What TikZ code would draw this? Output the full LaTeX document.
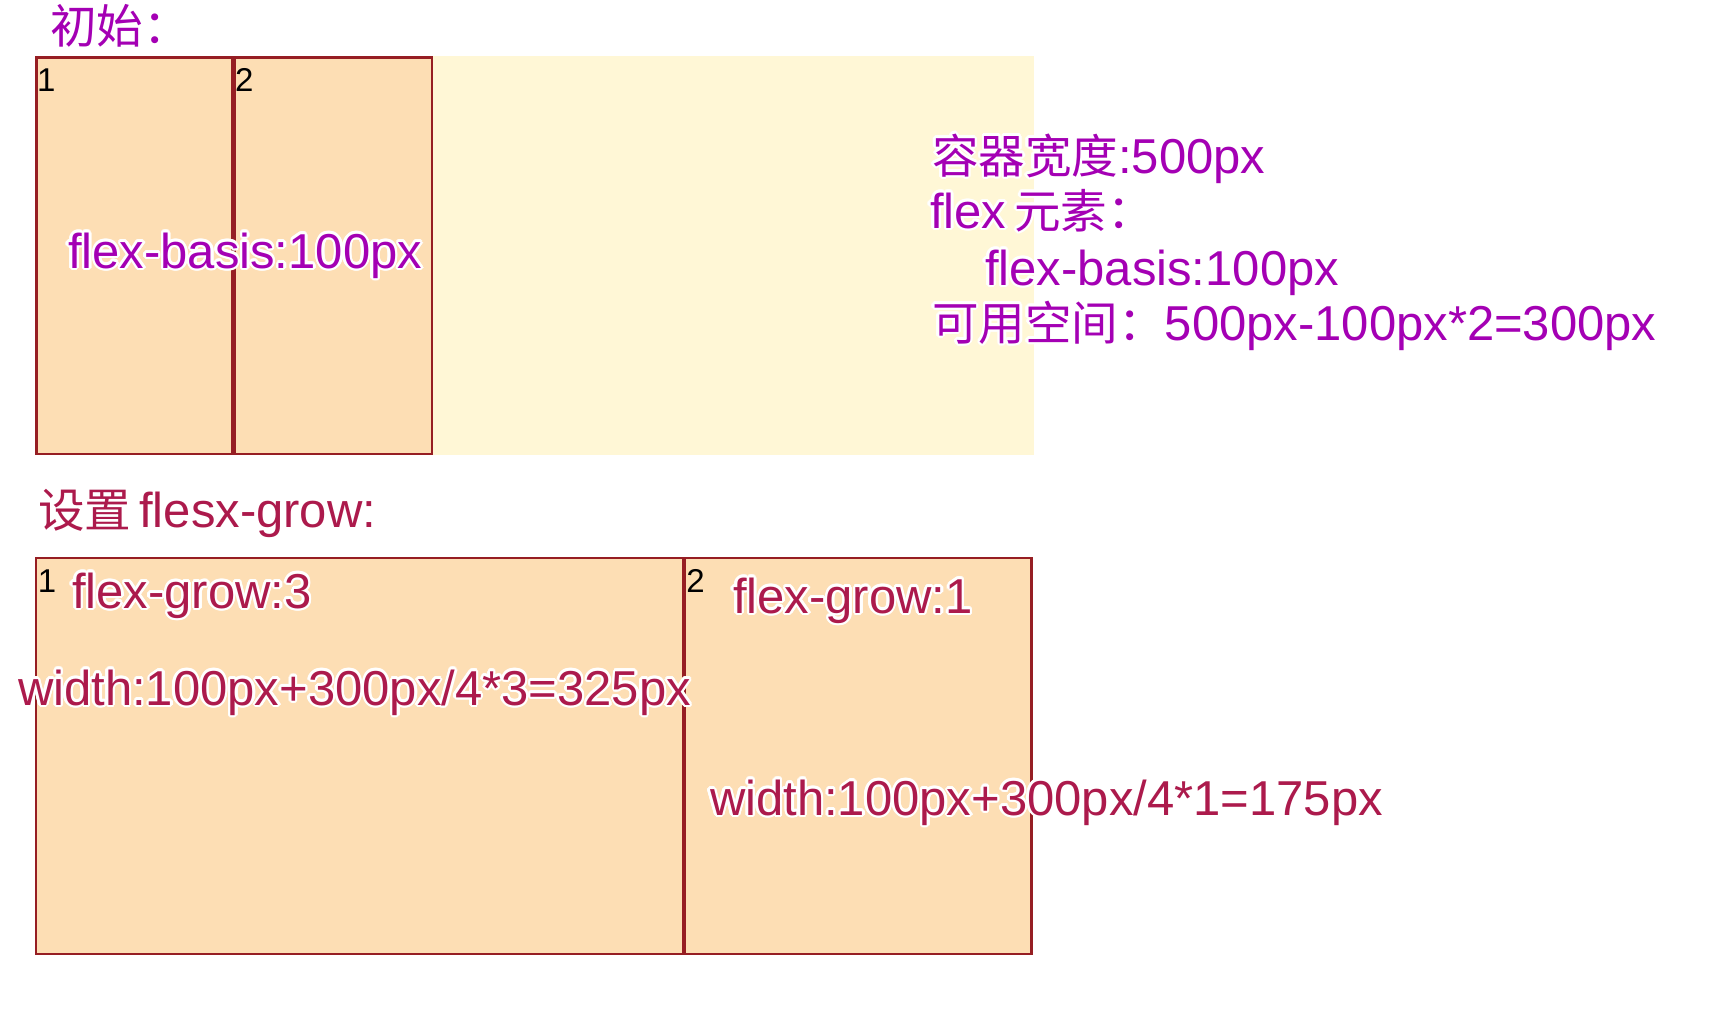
\documentclass[tikz,border=0pt]{standalone}
\usepackage{fontspec}
\setmainfont{Liberation Sans}
\newfontfamily\cjk{Noto Sans CJK SC}[Scale=0.95]
\usepackage{contour}
\contourlength{2.5pt}
\usetikzlibrary{positioning}
\definecolor{contfill}{RGB}{255,247,214}
\definecolor{itemfill}{RGB}{253,222,180}
\definecolor{itemline}{RGB}{150,30,35}
\definecolor{notepurple}{RGB}{164,0,180}
\definecolor{notered}{RGB}{172,26,76}
\begin{document}
\begin{tikzpicture}[x=1pt,y=-1pt,every node/.style={inner sep=0pt,outer sep=0pt},
  itembox/.style={draw=itemline,line width=2.5pt,fill=itemfill,anchor=north west},
  idx/.style={font=\fontsize{33}{33}\selectfont},
  note/.style={anchor=base west,font=\fontsize{49}{56}\selectfont}]
\useasboundingbox (0,0) rectangle (1726,1010);
\node [fill=contfill,minimum width=999pt,minimum height=399pt,anchor=north west] (Container) at (35,56) {};
\node [itembox,minimum width=195.5pt,minimum height=396.5pt] (TopItem1) at (36.25,57.25) {};
\node [itembox,minimum width=197.5pt,minimum height=396.5pt,right=2.5pt of TopItem1.north east,anchor=north west] (TopItem2) {};
\node [idx,below right=11.5pt and 0.75pt of TopItem1.north west] (TopNum1) {1};
\node [idx,below right=11.5pt and 0.75pt of TopItem2.north west] (TopNum2) {2};
\node [note,text=notepurple] (TopTitle) at (50,43) {\contour{white}{\cjk 初始：}};
\node [note,text=notepurple] (TopBasis) at (68,268) {\contour{white}{flex-basis:100px}};
\node [note,text=notepurple] (InfoWidth) at (932,173) {\contour{white}{{\cjk 容器宽度}:500px}};
\node [note,text=notepurple] (InfoItem) at (930,228) {\contour{white}{flex\,{\cjk 元素：}}};
\node [note,text=notepurple] (InfoBasis) at (985,285) {\contour{white}{flex-basis:100px}};
\node [note,text=notepurple] (InfoFree) at (932,340) {\contour{white}{{\cjk 可用空间：}500px-100px*2=300px}};
\node [note,text=notered] (GrowTitle) at (38,527) {\contour{white}{{\cjk 设置}\,flesx-grow:}};
\node [itembox,line width=2.2pt,minimum width=646.5pt,minimum height=395.5pt] (GrowItem1) at (36.25,558.25) {};
\node [itembox,line width=2.2pt,minimum width=346.5pt,minimum height=395.5pt,right=2.2pt of GrowItem1.north east,anchor=north west] (GrowItem2) {};
\node [idx,below right=11.5pt and 1.5pt of GrowItem1.north west] (GrowNum1) {1};
\node [idx,below right=11.5pt and 1.5pt of GrowItem2.north west] (GrowNum2) {2};
\node [note,text=notered] (GrowFactor1) at (72,608) {\contour{white}{flex-grow:3}};
\node [note,text=notered] (GrowWidth1) at (18,705) {\contour{white}{width:100px+300px/4*3=325px}};
\node [note,text=notered] (GrowFactor2) at (733,613) {\contour{white}{flex-grow:1}};
\node [note,text=notered] (GrowWidth2) at (710,815) {\contour{white}{width:100px+300px/4*1=175px}};
\end{tikzpicture}
\end{document}
